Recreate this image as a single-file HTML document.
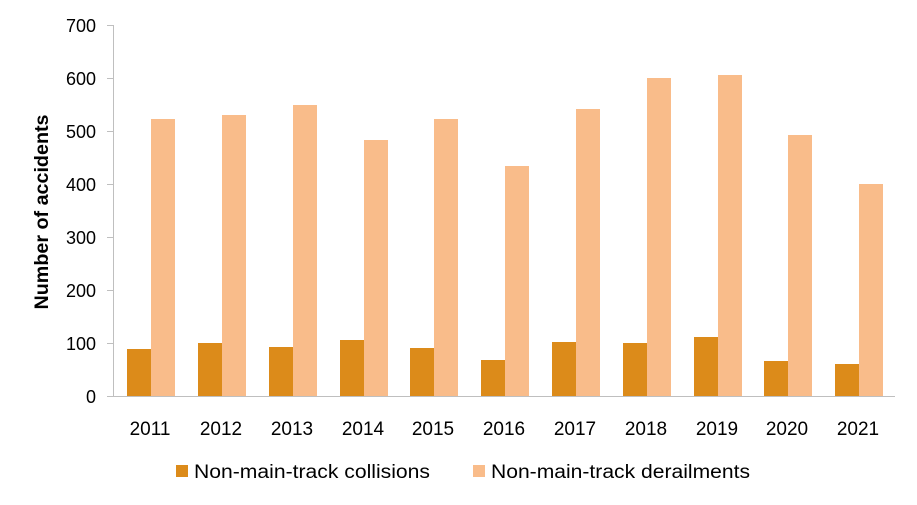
<!DOCTYPE html>
<html><head><style>
body{margin:0;background:#fff;}
svg{display:block;font-family:"Liberation Sans",sans-serif;}
</style></head><body>
<svg width="917" height="505" viewBox="0 0 917 505">
<g stroke="#bfbfbf" stroke-width="1">
<line x1="113.5" y1="25" x2="113.5" y2="397"/>
<line x1="113" y1="396.5" x2="895" y2="396.5"/>
<line x1="107" y1="25.5" x2="113" y2="25.5"/>
<line x1="107" y1="78.5" x2="113" y2="78.5"/>
<line x1="107" y1="131.5" x2="113" y2="131.5"/>
<line x1="107" y1="184.5" x2="113" y2="184.5"/>
<line x1="107" y1="237.5" x2="113" y2="237.5"/>
<line x1="107" y1="290.5" x2="113" y2="290.5"/>
<line x1="107" y1="343.5" x2="113" y2="343.5"/>
<line x1="107" y1="396.5" x2="113" y2="396.5"/>
</g>
<g font-size="18" fill="#000" text-anchor="end">
<text x="96" y="32">700</text><text x="96" y="85">600</text><text x="96" y="138">500</text>
<text x="96" y="191">400</text><text x="96" y="244">300</text><text x="96" y="297">200</text>
<text x="96" y="350">100</text><text x="96" y="403">0</text>
</g>
<text transform="translate(48,212) rotate(-90)" font-size="19" font-weight="600" text-anchor="middle" textLength="195" lengthAdjust="spacingAndGlyphs">Number of accidents</text>
<g fill="#DC8B1A">
<rect x="127" y="349" width="24" height="47"/>
<rect x="198" y="343" width="24" height="53"/>
<rect x="269" y="347" width="24" height="49"/>
<rect x="340" y="340" width="24" height="56"/>
<rect x="410" y="348" width="24" height="48"/>
<rect x="481" y="360" width="24" height="36"/>
<rect x="552" y="342" width="24" height="54"/>
<rect x="623" y="343" width="24" height="53"/>
<rect x="694" y="337" width="24" height="59"/>
<rect x="764" y="361" width="24" height="35"/>
<rect x="835" y="364" width="24" height="32"/>
</g>
<g fill="#F9BC8A">
<rect x="151" y="119" width="24" height="277"/>
<rect x="222" y="115" width="24" height="281"/>
<rect x="293" y="105" width="24" height="291"/>
<rect x="364" y="140" width="24" height="256"/>
<rect x="434" y="119" width="24" height="277"/>
<rect x="505" y="166" width="24" height="230"/>
<rect x="576" y="109" width="24" height="287"/>
<rect x="647" y="78" width="24" height="318"/>
<rect x="718" y="75" width="24" height="321"/>
<rect x="788" y="135" width="24" height="261"/>
<rect x="859" y="184" width="24" height="212"/>
</g>
<g font-size="19" text-anchor="middle">
<text x="150" y="435">2011</text><text x="221" y="435">2012</text><text x="292" y="435">2013</text>
<text x="363" y="435">2014</text><text x="433" y="435">2015</text><text x="504" y="435">2016</text>
<text x="575" y="435">2017</text><text x="646" y="435">2018</text><text x="717" y="435">2019</text>
<text x="787" y="435">2020</text><text x="858" y="435">2021</text>
</g>
<rect x="176" y="465" width="12" height="12" fill="#DC8B1A"/>
<text x="194" y="478" font-size="19" textLength="236" lengthAdjust="spacingAndGlyphs">Non-main-track collisions</text>
<rect x="473" y="465" width="12" height="12" fill="#F9BC8A"/>
<text x="491" y="478" font-size="19" textLength="259" lengthAdjust="spacingAndGlyphs">Non-main-track derailments</text>
</svg>
</body></html>
